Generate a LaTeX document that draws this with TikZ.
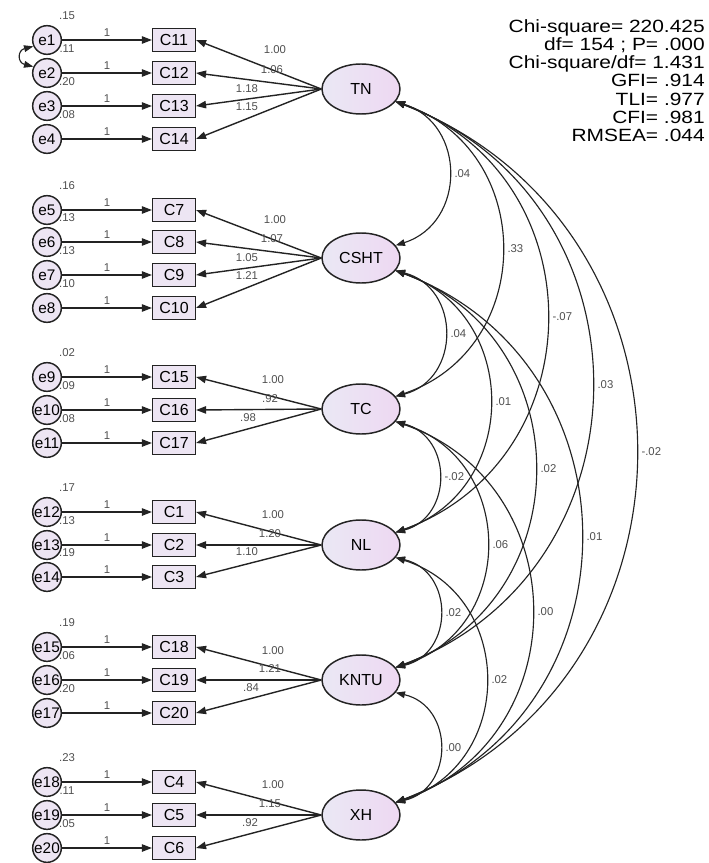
\documentclass[tikz,border=0pt]{standalone}
\usepackage{fontspec}
\setmainfont{Liberation Sans}
\newfontfamily\fitfont[FakeStretch=1.18]{Liberation Sans}
\usetikzlibrary{arrows.meta,shapes.geometric}
\definecolor{lav}{RGB}{237,229,243}
\definecolor{lavA}{RGB}{234,232,244}
\definecolor{lavB}{RGB}{238,216,242}
\definecolor{edgec}{RGB}{35,35,35}
\definecolor{lblgray}{RGB}{80,80,80}
\newcommand\covarc[6]{%
  \pgfmathsetmacro\cvA{(#4-395)/0.75}%
  \pgfmathsetmacro\cvH{(#3-24)/2}%
  \pgfmathsetmacro\cvS{#4-395}%
  \pgfmathsetmacro\cvB{\cvA*tan(90-2*atan(\cvS/\cvH))}%
  \draw[cov] (#1.-20) .. controls +(\cvA,\cvB) and +(\cvA,-\cvB) .. (#2.20)
    node[lbl, pos=0.5, anchor=west, xshift=3.5pt] (#5) {#6};%
}
\begin{document}
\begin{tikzpicture}[x=0.75pt,y=-0.75pt,
  tip/.style={-{Triangle[length=7.5pt,width=5.5pt]}, draw=edgec, line width=1.05pt},
  cov/.style={{Triangle[length=7pt,width=5pt]}-{Triangle[length=7pt,width=5pt]}, draw=edgec, line width=0.85pt},
  errc/.style={circle, draw=edgec, line width=1.1pt, fill=lav, minimum size=21.5pt, inner sep=0pt, font=\fontsize{11.5}{12}\selectfont},
  obs/.style={rectangle, draw=edgec, line width=1.1pt, fill=lav, minimum width=32pt, minimum height=17pt, inner sep=0pt, font=\fontsize{12}{13}\selectfont},
  lat/.style={ellipse, draw=edgec, line width=1.1pt, left color=lavA, right color=lavB, minimum width=58.5pt, minimum height=37.5pt, inner sep=0pt, font=\fontsize{12}{13}\selectfont},
  lbl/.style={font=\fontsize{8.5}{9}\selectfont, text=lblgray, inner sep=0.5pt}]
\useasboundingbox (0,0) rectangle (708,863);
\fill[white] (0,0) rectangle (708,863);

% indicators and errors
\foreach \i/\c/\y/\v in {1/11/40/.15, 2/12/73/.11, 3/13/106/.20, 4/14/139/.08,
  5/7/210/.16, 6/8/242/.13, 7/9/275/.13, 8/10/308/.10,
  9/15/377/.02, 10/16/410/.09, 11/17/443/.08,
  12/1/512/.17, 13/2/545/.13, 14/3/577/.19,
  15/18/647/.19, 16/19/680/.06, 17/20/713/.20,
  18/4/782/.23, 19/5/815/.11, 20/6/848/.05}{
  \node[errc] (e\i) at (47,\y) {e\i};
  \node[obs] (c\c) at (174,\y) {C\c};
  \draw[tip] (e\i) -- (c\c) node[lbl, midway, above=1.5pt] (one\i) {1};
  \node[lbl] (var\i) at (67,\y-24) {\v};
}

% e1 <-> e2 covariance
\draw[cov] (e1.205) .. controls +(-16,4) and +(-16,-4) .. (e2.155);

% latent factors
\node[lat] (TN) at (361,89) {TN};
\node[lat] (CSHT) at (361,258) {CSHT};
\node[lat] (TC) at (361,409) {TC};
\node[lat] (NL) at (361,545) {NL};
\node[lat] (KNTU) at (361,680) {KNTU};
\node[lat] (XH) at (361,815) {XH};

% loadings
\foreach \f/\c in {TN/11,TN/12,TN/13,TN/14,CSHT/7,CSHT/8,CSHT/9,CSHT/10,
  TC/15,TC/16,TC/17,NL/1,NL/2,NL/3,KNTU/18,KNTU/19,KNTU/20,XH/4,XH/5,XH/6}{
  \draw[tip] (\f.west) -- (c\c.east);
}
\foreach \n/\x/\y/\t in {l11/275/50/1.00, l12/272/70/1.06, l13/247/89/1.18, l14/247/107/1.15,
  l7/275/220/1.00, l8/272/239/1.07, l9/247/258/1.05, l10/247/276/1.21,
  l15/273/380/1.00, l16/270/399/.92, l17/248/418/.98,
  l1/273/515/1.00, l2/270/534/1.20, l3/247/552/1.10,
  l18/273/651/1.00, l19/270/669/1.21, l20/251/688/.84,
  l4/273/785/1.00, l5/270/804/1.15, l6/250/823/.92}{
  \node[lbl] (\n) at (\x,\y) {\t};
}

% covariances between factors
\covarc{TN}{CSHT}{169}{448}{k1}{.04}
\covarc{TN}{TC}{320}{501}{k2}{.33}
\covarc{TN}{NL}{456}{546}{k3}{-.07}
\covarc{TN}{KNTU}{591}{591}{k4}{.03}
\covarc{TN}{XH}{726}{635}{k5}{-.02}
\covarc{CSHT}{TC}{151}{444}{k6}{.04}
\covarc{CSHT}{NL}{287}{489}{k7}{.01}
\covarc{CSHT}{KNTU}{422}{534}{k8}{.02}
\covarc{CSHT}{XH}{557}{580}{k9}{.01}
\covarc{TC}{NL}{136}{438}{k10}{-.02}
\covarc{TC}{KNTU}{271}{486}{k11}{.06}
\covarc{TC}{XH}{406}{531}{k12}{.00}
\covarc{NL}{KNTU}{135}{439}{k13}{.02}
\covarc{NL}{XH}{270}{485}{k14}{.02}
\covarc{KNTU}{XH}{135}{439}{k15}{.00}

% fit statistics
\node[anchor=north east, align=right, inner sep=0pt,
  font={\fitfont\fontsize{13.3}{13.7}\selectfont}] (fit) at (705,19)
  {Chi-square= 220.425\\df= 154 ; P= .000\\Chi-square/df= 1.431\\GFI= .914\\TLI= .977\\CFI= .981\\RMSEA= .044};
\end{tikzpicture}
\end{document}
